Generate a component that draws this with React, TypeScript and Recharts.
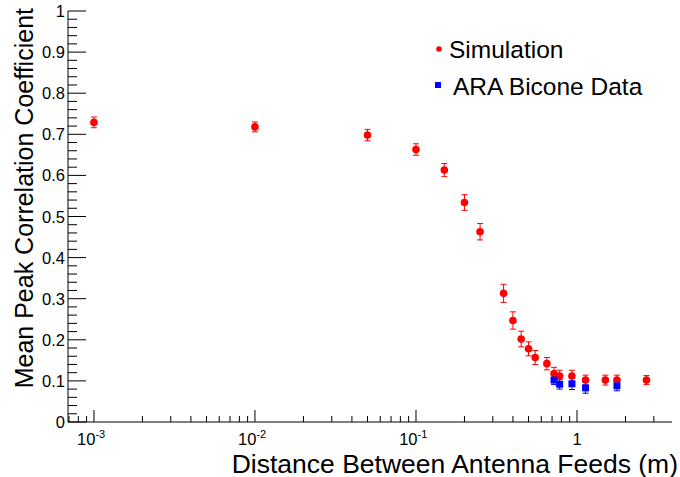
import { ScatterChart, Scatter, XAxis, YAxis, ErrorBar, Legend } from 'recharts';

// distances in metres
const simDistance = [0.001, 0.01, 0.05, 0.1, 0.15, 0.2, 0.25, 0.35, 0.4, 0.45, 0.5, 0.55, 0.65, 0.72, 0.78, 0.93, 1.13, 1.5, 1.77, 2.7];
const simCorrelation = [0.729, 0.718, 0.698, 0.663, 0.613, 0.534, 0.463, 0.313, 0.247, 0.202, 0.178, 0.157, 0.142, 0.118, 0.112, 0.112, 0.102, 0.102, 0.102, 0.102];
const simError = [0.013, 0.012, 0.014, 0.014, 0.016, 0.019, 0.02, 0.022, 0.021, 0.019, 0.017, 0.017, 0.015, 0.015, 0.014, 0.014, 0.012, 0.012, 0.012, 0.011];

const araDistance = [0.72, 0.78, 0.93, 1.13, 1.77];
const araCorrelation = [0.102, 0.092, 0.093, 0.083, 0.088];
const araError = [0.011, 0.012, 0.014, 0.013, 0.012];

const xDomain = [6.9e-4, 3.89];
const yLabels = ['0', '0.1', '0.2', '0.3', '0.4', '0.5', '0.6', '0.7', '0.8', '0.9', '1'];

const font = '"Liberation Sans", Arial, Helvetica, sans-serif';

const simData = simDistance.map((x, i) => ({ x, y: simCorrelation[i], err: simError[i] }));
const araData = araDistance.map((x, i) => ({ x, y: araCorrelation[i], err: araError[i] }));

// ROOT style: 2..9 minor ticks in every decade
const xTicks: number[] = [];
for (let e = -4; e <= 0; e++) {
    for (let m = 1; m <= 9; m++) {
        const v = m * Math.pow(10, e);
        if (v >= xDomain[0] && v <= xDomain[1]) xTicks.push(v);
    }
}
const yTicks: number[] = [];
for (let i = 0; i <= 50; i++) yTicks.push(i / 50);

const isDecade = (v: number) => Math.abs(Math.log10(v) - Math.round(Math.log10(v))) < 1e-6;
const isTenth = (v: number) => Math.abs(v * 10 - Math.round(v * 10)) < 1e-6;

function BottomTick({ x, y, payload }: any) {
    const v = payload.value;
    const major = isDecade(v);
    const e = Math.round(Math.log10(v));
    let label = null;
    if (major && e === 0) {
        label = (
            <text x={x} y={y + 23} textAnchor="middle" fontSize={16.5} fontFamily={font} fill="#000">1</text>
        );
    } else if (major) {
        // base and exponent as two texts so they sit side by side
        label = (
            <g>
                <text x={x + 1.5} y={y + 23} textAnchor="end" fontSize={16.5} fontFamily={font} fill="#000">10</text>
                <text x={x + 1.5} y={y + 16} textAnchor="start" fontSize={11} fontFamily={font} fill="#000">{e}</text>
            </g>
        );
    }
    return (
        <g>
            <line x1={x} x2={x} y1={y} y2={y - (major ? 12 : 6)} stroke="#000" />
            {label}
        </g>
    );
}

function TopTick({ x, y, payload }: any) {
    const major = isDecade(payload.value);
    return <line x1={x} x2={x} y1={y} y2={y + (major ? 12 : 6)} stroke="#000" />;
}

function LeftTick({ x, y, payload }: any) {
    const v = payload.value;
    const major = isTenth(v);
    return (
        <g>
            <line x1={x} x2={x + (major ? 18 : 9)} y1={y} y2={y} stroke="#000" />
            {major && (
                <text x={x - 3} y={y + 6} textAnchor="end" fontSize={16.5} fontFamily={font} fill="#000">
                    {yLabels[Math.round(v * 10)]}
                </text>
            )}
        </g>
    );
}

function RightTick({ x, y, payload }: any) {
    const major = isTenth(payload.value);
    return <line x1={x} x2={x - (major ? 18 : 9)} y1={y} y2={y} stroke="#000" />;
}

const SimDot = (p: any) => <circle cx={p.cx} cy={p.cy} r={3.8} fill="#ff0000" />;
const AraSquare = (p: any) => (
    <rect x={p.cx - 3.5} y={p.cy - 3.5} width={7} height={7} fill="#0000ff" />
);

const XTitle = ({ viewBox }: any) => (
    <text
        x={viewBox.x + viewBox.width + 6}
        y={viewBox.y + 50.5}
        textAnchor="end"
        fontSize={26.5}
        fontFamily={font}
        fill="#000"
    >
        Distance Between Antenna Feeds (m)
    </text>
);

const YTitle = ({ viewBox }: any) => {
    const cx = viewBox.x + 33;
    const cy = viewBox.y - 3;
    return (
        <text
            x={cx}
            y={cy}
            transform={`rotate(-90, ${cx}, ${cy})`}
            textAnchor="end"
            fontSize={25}
            fontFamily={font}
            fill="#000"
        >
            Mean Peak Correlation Coefficient
        </text>
    );
};

const LegendBox = () => (
    <svg width={250} height={80} style={{ display: 'block' }}>
        <circle cx={19} cy={19} r={2.8} fill="#ff0000" />
        <text x={29} y={28} fontSize={24.5} fontFamily={font} fill="#000">Simulation</text>
        <rect x={15} y={52} width={6} height={6} fill="#0000ff" />
        <text x={33} y={65} fontSize={24.5} fontFamily={font} fill="#000">ARA Bicone Data</text>
    </svg>
);

export default function App() {
    return (
        <div style={{ position: 'absolute', left: 0, top: 0, background: '#fff' }}>
            <ScatterChart width={680} height={477} margin={{ top: 11, right: 8, bottom: 0, left: 0 }}>
                <XAxis
                    xAxisId="b"
                    dataKey="x"
                    type="number"
                    scale="log"
                    domain={xDomain}
                    allowDataOverflow
                    ticks={xTicks}
                    interval={0}
                    height={55}
                    tickSize={0}
                    tickMargin={0}
                    tickLine={false}
                    axisLine={{ stroke: '#000' }}
                    tick={<BottomTick />}
                    label={{ content: XTitle }}
                />
                <XAxis
                    xAxisId="t"
                    orientation="top"
                    dataKey="x"
                    type="number"
                    scale="log"
                    domain={xDomain}
                    allowDataOverflow
                    ticks={xTicks}
                    interval={0}
                    height={0}
                    tickSize={0}
                    tickMargin={0}
                    tickLine={false}
                    axisLine={{ stroke: '#000' }}
                    tick={<TopTick />}
                />
                <YAxis
                    yAxisId="l"
                    dataKey="y"
                    type="number"
                    domain={[0, 1]}
                    allowDataOverflow
                    ticks={yTicks}
                    interval={0}
                    width={68}
                    tickSize={0}
                    tickMargin={0}
                    tickLine={false}
                    axisLine={{ stroke: '#000' }}
                    tick={<LeftTick />}
                    label={{ content: YTitle }}
                />
                <YAxis
                    yAxisId="r"
                    orientation="right"
                    dataKey="y"
                    type="number"
                    domain={[0, 1]}
                    allowDataOverflow
                    ticks={yTicks}
                    interval={0}
                    width={0}
                    tickSize={0}
                    tickMargin={0}
                    tickLine={false}
                    axisLine={{ stroke: '#000' }}
                    tick={<RightTick />}
                />
                <Legend
                    layout="horizontal"
                    verticalAlign="middle"
                    align="center"
                    wrapperStyle={{ left: 420, top: 30, width: 250, height: 80 }}
                    content={() => <LegendBox />}
                />
                <Scatter
                    name="Simulation"
                    data={simData}
                    xAxisId="b"
                    yAxisId="l"
                    shape={SimDot}
                    isAnimationActive={false}
                >
                    <ErrorBar dataKey="err" direction="y" width={3} stroke="#ff0000" strokeWidth={1} />
                </Scatter>
                <Scatter
                    name="ARA Bicone Data"
                    data={araData}
                    xAxisId="b"
                    yAxisId="l"
                    shape={AraSquare}
                    isAnimationActive={false}
                >
                    <ErrorBar dataKey="err" direction="y" width={3} stroke="#0000ff" strokeWidth={1} />
                </Scatter>
            </ScatterChart>
        </div>
    );
}
